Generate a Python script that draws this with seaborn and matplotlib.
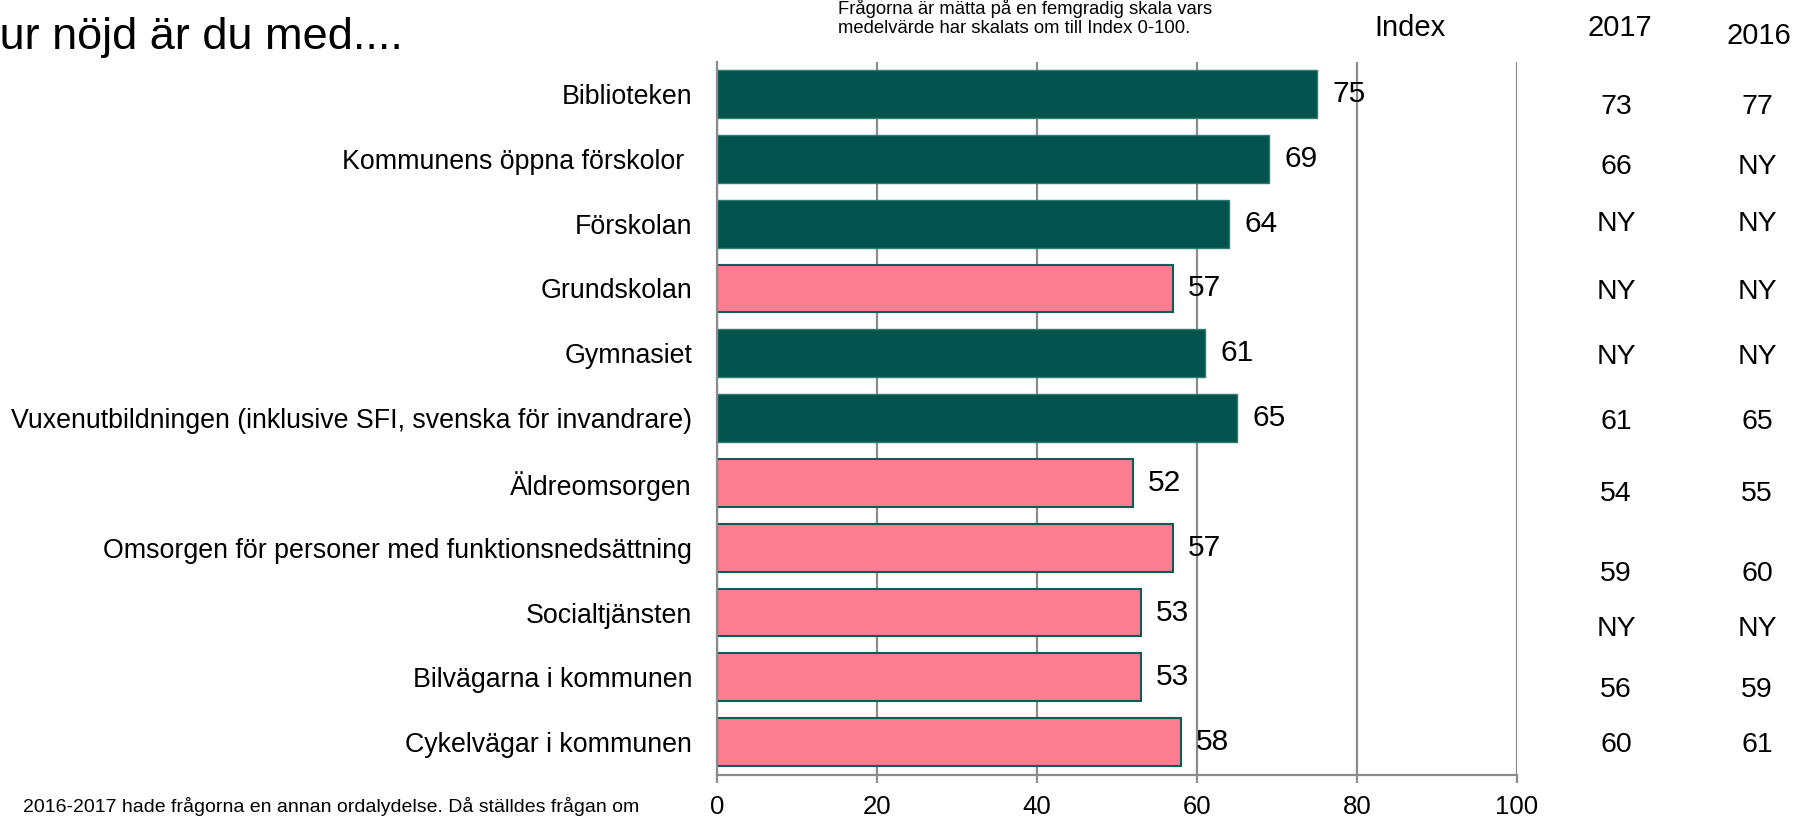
import numpy as np
import pandas as pd
import seaborn as sns
import matplotlib.pyplot as plt
from matplotlib.transforms import blended_transform_factory

# data
kategorier = [
    "Biblioteken",
    "Kommunens öppna förskolor ",
    "Förskolan",
    "Grundskolan",
    "Gymnasiet",
    "Vuxenutbildningen (inklusive SFI, svenska för invandrare)",
    "Äldreomsorgen",
    "Omsorgen för personer med funktionsnedsättning",
    "Socialtjänsten",
    "Bilvägarna i kommunen",
    "Cykelvägar i kommunen",
]
index_varde = [75, 69, 64, 57, 61, 65, 52, 57, 53, 53, 58]
grupp = ["grön", "grön", "grön", "rosa", "grön", "grön",
         "rosa", "rosa", "rosa", "rosa", "rosa"]
ar_2017 = ["73", "66", "NY", "NY", "NY", "61", "54", "59", "NY", "56", "60"]
ar_2016 = ["77", "NY", "NY", "NY", "NY", "65", "55", "60", "NY", "59", "61"]

# small vertical nudges for the side table (in rows)
tabell_nudge = [0.2, 0.12, 0.0, 0.05, 0.06, 0.06, 0.17, 0.4, 0.25, 0.2, 0.05]

df = pd.DataFrame({"kategori": kategorier, "index": index_varde, "grupp": grupp})

sns.set_style("white")
plt.rcParams["font.family"] = ["Liberation Sans", "DejaVu Sans"]
plt.rcParams["text.color"] = "black"

fig = plt.figure(figsize=(17.93, 8.17), dpi=100)
ax = fig.add_axes([0.3999, 0.052, 0.4461, 0.8725])

farger = {"grön": "#02534D", "rosa": "#FB7D8F"}
kanter = {"grön": "#2E7D75", "rosa": "#0D5C55"}
sns.barplot(data=df, x="index", y="kategori", hue="grupp", palette=farger,
            order=kategorier, hue_order=["grön", "rosa"], width=0.74,
            dodge=False, legend=False, saturation=1, ax=ax)

for cont, g in zip(ax.containers, ["grön", "rosa"]):
    for bar in cont:
        bar.set_edgecolor(kanter[g])
        bar.set_linewidth(1.5 if g == "rosa" else 1.0)
    ax.bar_label(cont, fmt="%d", padding=11, fontsize=21.5, color="black")

grid_c = "#8C8C8C"
ax.set_xlim(0, 100)
ax.set_ylim(10.5, -0.5)
ax.set_xticks([0, 20, 40, 60, 80, 100])
ax.set_axisbelow(True)
ax.xaxis.grid(True, color=grid_c, lw=1.6)
ax.yaxis.grid(False)
for s in ["top", "right"]:
    ax.spines[s].set_visible(False)
for s in ["left", "bottom"]:
    ax.spines[s].set_color(grid_c)
    ax.spines[s].set_linewidth(1.6)

ax.set_yticks(np.arange(-0.5, 11, 1), minor=True)
ax.tick_params(axis="y", which="major", length=0, pad=18, labelsize=19.3,
               labelcolor="black")
ax.tick_params(axis="y", which="minor", length=6, width=1.6, color=grid_c, direction="out")
ax.tick_params(axis="x", length=6, width=1.6, color=grid_c, direction="out",
               pad=9, labelsize=18.5, labelcolor="black", bottom=True)
ax.set_xlabel("")
ax.set_ylabel("")

# side table
tr = blended_transform_factory(fig.transFigure, ax.transData)
for i in range(len(kategorier)):
    y = i + tabell_nudge[i]
    ax.text(1616 / 1793, y, ar_2017[i], transform=tr, ha="center", va="center",
            fontsize=20.5, clip_on=False)
    ax.text(1757 / 1793, y, ar_2016[i], transform=tr, ha="center", va="center",
            fontsize=20.5, clip_on=False)

fig.text(1410 / 1793, 1 - 28 / 817, "Index", ha="center", va="center", fontsize=21)
fig.text(1620 / 1793, 1 - 28 / 817, "2017", ha="center", va="center", fontsize=21)
fig.text(1759 / 1793, 1 - 36 / 817, "2016", ha="center", va="center", fontsize=21)

fig.text(-33 / 1793, 1 - 37 / 817, "Hur nöjd är du med....", ha="left", va="center",
         fontsize=32.5)
fig.text(838 / 1793, 1 - 33 / 817,
         "Frågorna är mätta på en femgradig skala vars\nmedelvärde har skalats om till Index 0-100.",
         ha="left", va="baseline", fontsize=13.3, linespacing=1.12)
fig.text(23 / 1793, 1 - 807 / 817,
         "2016-2017 hade frågorna en annan ordalydelse. Då ställdes frågan om",
         ha="left", va="center", fontsize=14)

fig.savefig("out.png", dpi=100)
